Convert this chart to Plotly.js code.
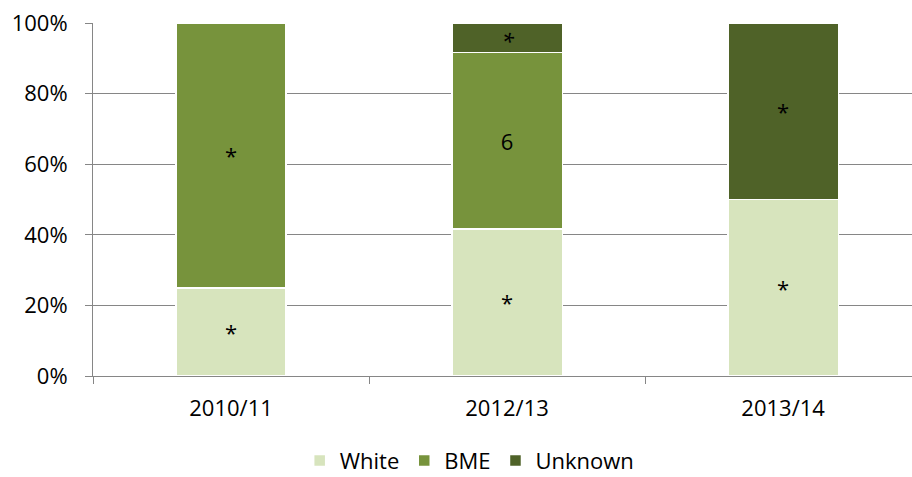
<!DOCTYPE html>
<html>
<head>
<meta charset="utf-8">
<script src="https://cdn.plot.ly/plotly-3.0.1.min.js"></script>
<style>html,body{margin:0;padding:0;background:#fff;}#chart{width:912px;height:477px;}</style>
</head>
<body>
<div id="chart"></div>
<script>
const categories = ["2010/11", "2012/13", "2013/14"];
const whiteValues = [25, 41.67, 50];
const bmeValues = [75, 50, 0];
const unknownValues = [0, 8.33, 50];
const whiteLabels = ["*", "*", "*"];
const bmeLabels = ["*", "6", ""];
const unknownLabels = ["", "*", "*"];
const yTickVals = [0, 20, 40, 60, 80, 100];
const yTickText = ["0%", "20%", "40%", "60%", "80%", "100%"];

const font = "Open Sans, Liberation Sans, sans-serif";
const fs = 22;
function series(name, values, labels, color) {
  return {
    type: "bar", name: name, x: categories, y: values, text: labels,
    texttemplate: "%{text}", textposition: "inside", insidetextanchor: "middle",
    textfont: {family: font, size: fs, color: "#000"},
    marker: {color: color, line: {color: "#ffffff", width: 1.5}},
    width: 0.4, hoverinfo: "skip", constraintext: "none"
  };
}
const data = [
  series("White", whiteValues, whiteLabels, "#D7E4BD"),
  series("BME", bmeValues, bmeLabels, "#77933C"),
  series("Unknown", unknownValues, unknownLabels, "#4F6228")
];
const layout = {
  width: 912, height: 477, barmode: "stack",
  margin: {l: 93, r: 0, t: 23, b: 101},
  paper_bgcolor: "#fff", plot_bgcolor: "#fff",
  font: {family: font, size: fs, color: "#000"},
  uniformtext: {mode: false},
  xaxis: {
    type: "category", range: [-0.5, 2.467], tickson: "boundaries", automargin: false,
    ticks: "outside", ticklen: 7, tickcolor: "#868686", tickwidth: 1,
    showline: true, linecolor: "#868686", linewidth: 1, ticklabelstandoff: 13,
    showgrid: false, tickfont: {family: font, size: fs, color: "#000"}, fixedrange: true
  },
  yaxis: {
    range: [0, 100], tickvals: yTickVals, ticktext: yTickText, automargin: false,
    ticks: "outside", ticklen: 7, tickcolor: "#868686", ticklabelstandoff: 13,
    showline: true, linecolor: "#868686", linewidth: 1,
    showgrid: true, gridcolor: "#868686", gridwidth: 1, zeroline: false,
    tickfont: {family: font, size: fs, color: "#000"}, fixedrange: true
  },
  showlegend: true,
  legend: {orientation: "h", xref: "container", yref: "container", x: 0.515, xanchor: "center",
    y: 0.034, yanchor: "middle",
    font: {family: font, size: fs, color: "#000"}, traceorder: "normal", itemwidth: 30}
};
Plotly.newPlot("chart", data, layout, {displayModeBar: false, staticPlot: true});
</script>
</body>
</html>
